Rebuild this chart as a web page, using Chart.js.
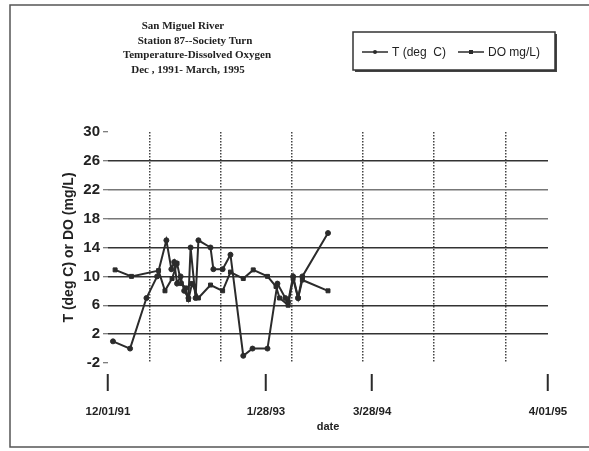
<!DOCTYPE html>
<html>
<head>
<meta charset="utf-8">
<title>San Miguel River - Station 87</title>
<script src="https://cdn.jsdelivr.net/npm/chart.js@4.4.0/dist/chart.umd.min.js"></script>
<style>
  body { margin: 0; background: #fff; }
  canvas { display: block; }
</style>
</head>
<body>
<canvas id="myChart" width="589" height="451"></canvas>
<script>
// the printed date axis is not linear in time, so points are placed by
// their position along it (grid lines sit at 10, 20 ... 60)
var tempPos = [4.9, 7.3, 9.6, 11.1, 12.4, 13.1, 13.5, 13.9, 14.4, 14.9, 15.5, 15.8, 16.5, 16.9, 18.6, 19.0, 20.3, 21.4, 23.2, 24.5, 26.6, 28.0, 29.1, 29.5, 30.2, 30.9, 31.5, 35.1];
var tempVals = [1, 0, 7, 10, 15, 11, 12, 9, 10, 8, 7, 14, 7, 15, 14, 11, 11, 13, -1, 0, 0, 9, 7, 6.5, 10, 7, 10, 16];

var doPos = [5.2, 7.5, 11.3, 12.2, 13.2, 13.9, 14.5, 15.1, 15.5, 16.0, 16.9, 18.6, 20.3, 21.4, 23.2, 24.6, 26.6, 27.8, 28.3, 29.5, 30.2, 30.9, 31.5, 35.1];
var doVals = [10.9, 10, 10.8, 8, 9.7, 11.8, 9, 8.4, 6.8, 9, 7, 8.8, 8, 10.6, 9.7, 10.9, 10, 8.6, 7, 6, 9.7, 7, 9.5, 8];

var dateTickPos = [4.2, 26.4, 41.3, 66.0];
var dateTickLabels = ['12/01/91', '1/28/93', '3/28/94', '4/01/95'];
var gridPos = [10, 20, 30, 40, 50, 60];
var yTicks = [-2, 2, 6, 10, 14, 18, 22, 26, 30];

var titleLines = ['San Miguel River', 'Station 87--Society Turn', 'Temperature-Dissolved Oxygen', 'Dec , 1991- March, 1995'];
var seriesNames = ['T (deg  C)', 'DO mg/L)'];

var ink = '#2b2b2b';
var none = 'rgba(0,0,0,0)';

var allXTicks = dateTickPos.concat(gridPos).sort(function(a, b) { return a - b; });

function isDateTick(v) {
  return dateTickPos.indexOf(v) >= 0;
}

function toPoints(xs, ys) {
  return xs.map(function(x, i) { return {x: x, y: ys[i]}; });
}

// frame, title block and boxed legend
var decorations = {
  id: 'decorations',
  afterDraw: function(chart) {
    var c = chart.ctx;
    c.save();

    c.strokeStyle = '#555';
    c.lineWidth = 1.5;
    c.beginPath();
    c.moveTo(589, 5);
    c.lineTo(10, 5);
    c.lineTo(10, 447);
    c.lineTo(589, 447);
    c.stroke();

    c.fillStyle = '#222';
    c.font = 'bold 11px "Liberation Serif"';
    c.textAlign = 'center';
    c.textBaseline = 'middle';
    var cx = [183, 195, 197, 188];
    titleLines.forEach(function(t, i) {
      c.fillText(t, cx[i], 26 + i * 14.7);
    });

    // legend box with a little shadow
    c.fillStyle = '#444';
    c.fillRect(355, 34, 202, 38);
    c.fillStyle = '#fff';
    c.fillRect(353, 32, 202, 38);
    c.strokeStyle = '#333';
    c.lineWidth = 1.5;
    c.strokeRect(353, 32, 202, 38);

    var sx = [362, 458];
    var ly = 52;
    c.font = '12px "Liberation Sans"';
    c.textAlign = 'left';
    chart.data.datasets.forEach(function(ds, i) {
      c.strokeStyle = ink;
      c.lineWidth = 1.5;
      c.beginPath();
      c.moveTo(sx[i], ly);
      c.lineTo(sx[i] + 26, ly);
      c.stroke();
      c.fillStyle = ink;
      if (ds.pointStyle === 'rect') {
        c.fillRect(sx[i] + 11, ly - 2, 4, 4);
      } else {
        c.beginPath();
        c.arc(sx[i] + 13, ly, 2, 0, Math.PI * 2);
        c.fill();
      }
      c.fillStyle = '#222';
      c.fillText(seriesNames[i], sx[i] + 30, ly + 1);
    });

    c.restore();
  }
};

Chart.defaults.font.family = '"Liberation Sans", Arial, sans-serif';

var ctx = document.getElementById('myChart').getContext('2d');
var myChart = new Chart(ctx, {
  type: 'line',
  data: {
    datasets: [{
      label: seriesNames[0],
      data: toPoints(tempPos, tempVals),
      borderColor: ink,
      backgroundColor: ink,
      borderWidth: 2,
      pointStyle: 'circle',
      pointRadius: 2.5,
      pointBorderWidth: 1,
      tension: 0
    },
    {
      label: seriesNames[1],
      data: toPoints(doPos, doVals),
      borderColor: ink,
      backgroundColor: ink,
      borderWidth: 2,
      pointStyle: 'rect',
      pointRadius: 2.8,
      pointBorderWidth: 1,
      tension: 0
    }]
  },
  options: {
    responsive: false,
    animation: false,
    layout: {
      padding: {left: 50, right: 41, top: 132, bottom: 0}
    },
    plugins: {
      legend: {display: false},
      title: {display: false},
      tooltip: {enabled: false}
    },
    scales: {
      x: {
        type: 'linear',
        min: dateTickPos[0],
        max: dateTickPos[dateTickPos.length - 1],
        afterBuildTicks: function(scale) {
          scale.ticks = allXTicks.map(function(v) { return {value: v}; });
        },
        afterFit: function(scale) {
          scale.height = 88;
        },
        ticks: {
          autoSkip: false,
          maxRotation: 0,
          minRotation: 0,
          padding: 14,
          color: '#222',
          font: {weight: 'bold', size: 11.5},
          callback: function(value) {
            var i = dateTickPos.indexOf(value);
            return i >= 0 ? dateTickLabels[i] : '';
          }
        },
        grid: {
          color: function(c) { return isDateTick(c.tick.value) ? none : '#444'; },
          lineWidth: 1.5,
          tickLength: 28,
          tickWidth: 2,
          tickColor: function(c) { return isDateTick(c.tick.value) ? ink : none; },
          tickBorderDash: [0, 11, 17, 100]
        },
        border: {display: false, dash: [1.5, 1.5]},
        title: {
          display: true,
          text: 'date',
          color: '#222',
          font: {weight: 'bold', size: 11},
          padding: {top: 0, bottom: 17}
        }
      },
      y: {
        min: -2,
        max: 30,
        afterBuildTicks: function(scale) {
          scale.ticks = yTicks.map(function(v) { return {value: v}; });
        },
        afterFit: function(scale) {
          scale.width = 58;
        },
        ticks: {
          padding: 3,
          color: '#222',
          font: {weight: 'bold', size: 15}
        },
        grid: {
          color: function(c) {
            var v = c.tick.value;
            if (v === -2 || v === 30) return none;
            if (v === 18 || v === 22) return '#777';
            return '#333';
          },
          lineWidth: 1.5,
          tickLength: 5,
          tickWidth: 1,
          tickColor: '#555'
        },
        border: {display: false},
        title: {
          display: true,
          text: 'T (deg C) or DO (mg/L)',
          color: '#222',
          font: {weight: 'bold', size: 14},
          padding: {top: 11, bottom: 0}
        }
      }
    }
  },
  plugins: [decorations]
});
</script>
</body>
</html>
